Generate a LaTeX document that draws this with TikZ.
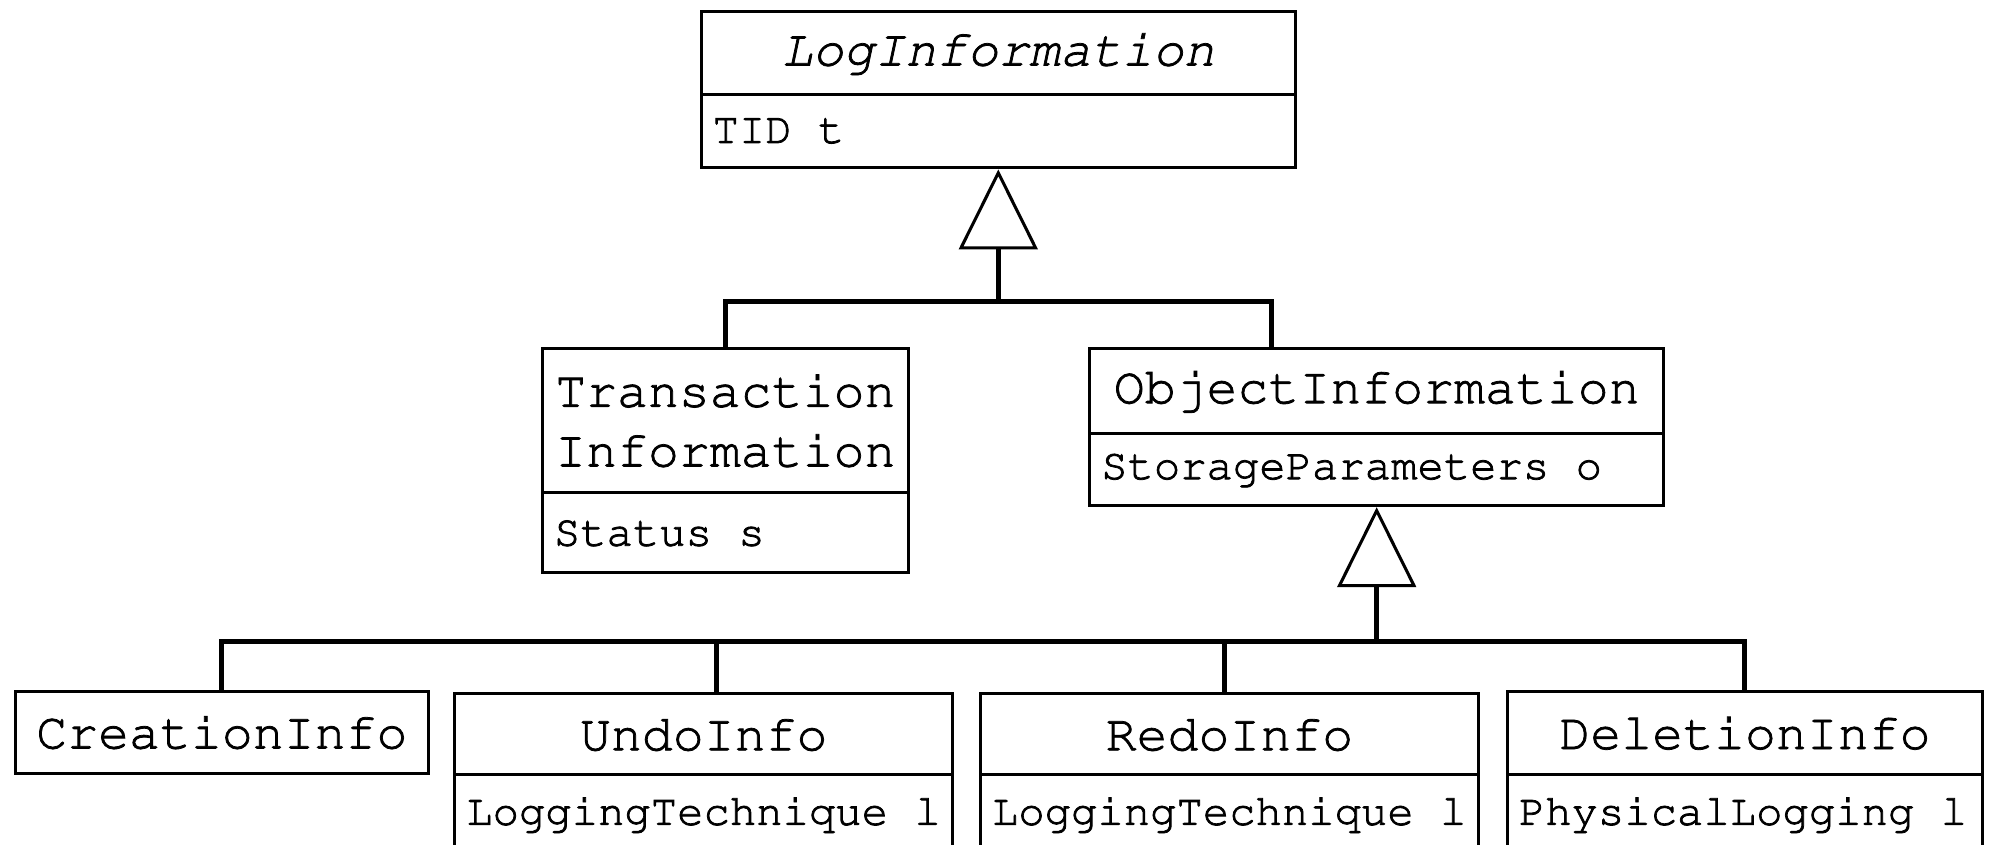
\documentclass[tikz,border=0pt]{standalone}
\usepackage[T1]{fontenc}
\usepackage{courier}
\usetikzlibrary{arrows.meta}

% fill-and-stroke text rendering for a slightly heavier Courier,
% with a monospaced word space of one full character width
\newcommand\heavytext[1]{\spaceskip=0.6em\xspaceskip=0.6em\relax
  \special{pdf:literal direct 2 Tr 0.3 w}#1\special{pdf:literal direct 0 Tr}}
\newcommand\monofont[1]{\ttfamily\fontsize{#1}{23.5}\selectfont}

\begin{document}
\begin{tikzpicture}[x=0.5pt,y=-0.5pt,
  box/.style={draw, line width=1.2pt, rectangle, anchor=north west, inner sep=0pt},
  titlebox/.style={box, font=\monofont{20.3}, align=center},
  attrbox/.style={box, font=\monofont{17.3}, align=left, inner xsep=4.5pt},
  conn/.style={line width=2pt},
  gen/.style={conn, -{Triangle[open, length=31.5pt, width=31pt, line width=1.2pt]}}
]
\useasboundingbox (0,0) rectangle (1568,665);
\clip (0,0) rectangle (1568,665);

% LogInformation (abstract)
\node[titlebox, minimum width=234pt, minimum height=32.5pt] (logT) at (551,8) {\heavytext{\itshape LogInformation}};
\node[attrbox, minimum height=29pt, text width=225pt] (logA) at (551,73) {\heavytext{TID t}};

% TransactionInformation
\node[titlebox, minimum width=144pt, minimum height=57pt] (trT) at (426,273) {\heavytext{Transaction}\\\heavytext{Information}};
\node[attrbox, minimum height=31.5pt, text width=135pt] (trA) at (426,387) {\heavytext{Status s}};

% ObjectInformation
\node[titlebox, minimum width=226pt, minimum height=33.5pt] (obT) at (857,273) {\heavytext{ObjectInformation}};
\node[attrbox, minimum height=28.5pt, text width=217pt] (obA) at (857,340) {\heavytext{StorageParameters o}};

% CreationInfo
\node[titlebox, minimum width=162.5pt, minimum height=32.5pt] (crT) at (11,543) {\heavytext{CreationInfo}};

% UndoInfo
\node[titlebox, minimum width=196pt, minimum height=32pt] (unT) at (357,545) {\heavytext{UndoInfo}};
\node[attrbox, minimum height=31pt, text width=187pt] (unA) at (357,609) {\heavytext{LoggingTechnique l}};

% RedoInfo
\node[titlebox, minimum width=196pt, minimum height=32pt] (reT) at (771,545) {\heavytext{RedoInfo}};
\node[attrbox, minimum height=31pt, text width=187pt] (reA) at (771,609) {\heavytext{LoggingTechnique l}};

% DeletionInfo
\node[titlebox, minimum width=187pt, minimum height=33pt] (deT) at (1186,543) {\heavytext{DeletionInfo}};
\node[attrbox, minimum height=31pt, text width=178pt] (deA) at (1186,609) {\heavytext{PhysicalLogging l}};

% generalisation: LogInformation
\coordinate (j1) at ([yshift=-52pt]logA.south);
\draw[gen] (j1) -- (logA.south);
\draw[conn] (trT.north) |- (j1) -| ([xshift=72pt]obT.north west);

% generalisation: ObjectInformation
\coordinate (j2) at ([yshift=-53pt]obA.south);
\draw[gen] (j2) -- (obA.south);
\draw[conn] (crT.north) |- (j2) -| (deT.north);
\draw[conn] ([xshift=5pt]unT.north) -- ([xshift=5pt]unT.north |- j2);
\draw[conn] ([xshift=-2pt]reT.north) -- ([xshift=-2pt]reT.north |- j2);
\end{tikzpicture}
\end{document}
